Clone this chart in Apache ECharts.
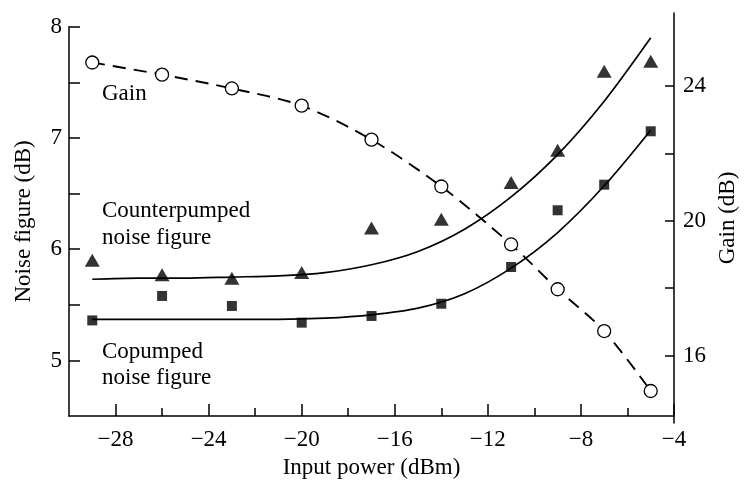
<!DOCTYPE html>
<html>
<head>
<meta charset="utf-8">
<script src="https://cdn.jsdelivr.net/npm/echarts@6/dist/echarts.min.js"></script>
<style>
  html, body { margin: 0; padding: 0; background: #fff; }
  #chart { width: 749px; height: 484px; }
</style>
</head>
<body>
<div id="chart"></div>
<script>
// Measured points
var inputPower = [-29, -26, -23, -20, -17, -14, -11, -9, -7, -5];
var gainDb = [24.70, 24.34, 23.93, 23.42, 22.41, 21.02, 19.30, 17.97, 16.73, 14.95];
var counterNF = [5.90, 5.77, 5.74, 5.79, 6.19, 6.27, 6.60, 6.89, 7.60, 7.69];
var coNF = [5.36, 5.58, 5.49, 5.34, 5.40, 5.51, 5.84, 6.35, 6.58, 7.06];

// Fitted curves
var fitPower = [-29, -27, -25, -23, -21, -19, -17, -15, -13, -11, -9, -7, -5];
var counterFit = [5.73, 5.74, 5.74, 5.75, 5.76, 5.79, 5.86, 5.98, 6.18, 6.47, 6.85, 7.33, 7.90];
var coFit = [5.37, 5.37, 5.37, 5.37, 5.37, 5.38, 5.41, 5.47, 5.60, 5.83, 6.15, 6.57, 7.07];

// Tick values
var xMajorTicks = [-28, -24, -20, -16, -12, -8, -4];
var xMinorTicks = [-26, -22, -18, -14, -10, -6];
var nfTicks = [5, 5.5, 6, 6.5, 7, 7.5, 8];
var nfLabels = [5, 6, 7, 8];
var gainTicks = [16, 18, 20, 22, 24];
var gainLabels = [16, 20, 24];

function pairs(xs, ys) { return xs.map(function (x, i) { return [x, ys[i]]; }); }

var FONT = 'Liberation Serif';
var BLACK = '#000';
var chart = echarts.init(document.getElementById('chart'), null, { renderer: 'canvas' });

var lineAxis = { show: true, lineStyle: { color: BLACK, width: 1.5 } };
var txt = { color: BLACK, fontFamily: FONT, fontSize: 23 };

function note(text, left, top) {
  return { type: 'text', left: left, top: top,
    style: { text: text, fontFamily: FONT, fontSize: 23, fill: BLACK } };
}

chart.setOption({
  animation: false,
  backgroundColor: '#fff',
  grid: [
    { left: 69, right: 75, top: 26.7, bottom: 61 },
    { left: 69, right: 75, top: 13, bottom: 61 }
  ],
  xAxis: [
    {
      type: 'value', gridIndex: 0, min: -30, max: -4,
      axisLine: lineAxis,
      axisTick: { show: true, inside: true, length: 12, customValues: xMajorTicks, lineStyle: { color: BLACK, width: 1.5 } },
      axisLabel: Object.assign({ show: true, customValues: xMajorTicks, margin: 12,
        formatter: function (v) { return String(v).replace('-', '\u2212'); } }, txt),
      splitLine: { show: false },
      name: 'Input power (dBm)', nameLocation: 'middle', nameGap: 33,
      nameTextStyle: txt
    },
    {
      type: 'value', gridIndex: 0, min: -30, max: -4, position: 'bottom',
      axisLine: { show: false },
      axisTick: { show: true, inside: true, length: 8, customValues: xMinorTicks, lineStyle: { color: BLACK, width: 1.5 } },
      axisLabel: { show: false },
      splitLine: { show: false }
    },
    {
      type: 'value', gridIndex: 1, min: -30, max: -4, show: false
    }
  ],
  yAxis: [
    {
      type: 'value', gridIndex: 0, min: 4.5, max: 8, position: 'left',
      axisLine: lineAxis,
      axisTick: { show: true, inside: true, length: 11, customValues: nfTicks, lineStyle: { color: BLACK, width: 1.5 } },
      axisLabel: Object.assign({ show: true, customValues: nfLabels, margin: 7 }, txt),
      splitLine: { show: false },
      name: 'Noise figure (dB)', nameLocation: 'middle', nameGap: 34, nameRotate: 90,
      nameTextStyle: txt
    },
    {
      type: 'value', gridIndex: 1, min: 14, max: 26.17, position: 'right',
      axisLine: lineAxis,
      axisTick: { show: true, inside: true, length: 9, customValues: gainTicks, lineStyle: { color: BLACK, width: 1.5 } },
      axisLabel: Object.assign({ show: true, customValues: gainLabels, margin: 9 }, txt),
      splitLine: { show: false },
      name: 'Gain (dB)', nameLocation: 'middle', nameGap: 42, nameRotate: 90,
      nameTextStyle: txt
    }
  ],
  series: [
    {
      name: 'Counterpumped fit', type: 'line', xAxisIndex: 0, yAxisIndex: 0,
      data: pairs(fitPower, counterFit), smooth: 0.3, showSymbol: false, symbol: 'none',
      lineStyle: { color: BLACK, width: 1.7 }, z: 2
    },
    {
      name: 'Copumped fit', type: 'line', xAxisIndex: 0, yAxisIndex: 0,
      data: pairs(fitPower, coFit), smooth: 0.3, showSymbol: false, symbol: 'none',
      lineStyle: { color: BLACK, width: 1.7 }, z: 2
    },
    {
      name: 'Gain', type: 'line', xAxisIndex: 2, yAxisIndex: 1,
      data: pairs(inputPower, gainDb), smooth: 0.3,
      symbol: 'circle', symbolSize: 13,
      itemStyle: { color: '#fff', borderColor: BLACK, borderWidth: 1.3 },
      lineStyle: { color: BLACK, width: 1.9, type: [13, 8] }, z: 3
    },
    {
      name: 'Counterpumped NF', type: 'scatter', xAxisIndex: 0, yAxisIndex: 0,
      data: pairs(inputPower, counterNF), symbol: 'triangle', symbolSize: [15, 13],
      itemStyle: { color: BLACK }, z: 4
    },
    {
      name: 'Copumped NF', type: 'scatter', xAxisIndex: 0, yAxisIndex: 0,
      data: pairs(inputPower, coNF), symbol: 'rect', symbolSize: 10,
      itemStyle: { color: BLACK }, z: 4
    }
  ],
  graphic: [
    note('Gain', 102, 82),
    note('Counterpumped', 102, 199),
    note('noise figure', 102, 226),
    note('Copumped', 102, 340),
    note('noise figure', 102, 366)
  ]
});
</script>
</body>
</html>
